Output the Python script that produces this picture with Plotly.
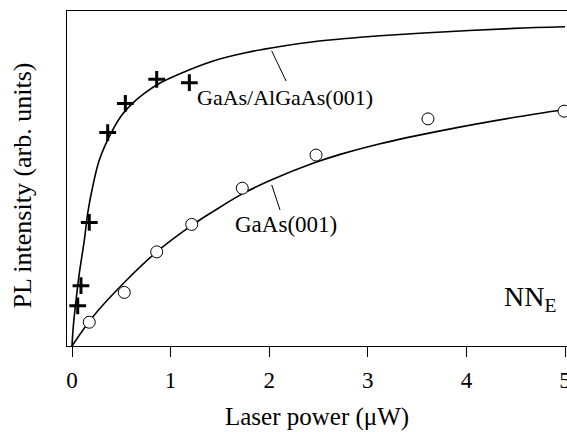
import plotly.graph_objects as go

# ---- data ----
power_alga = [0.058, 0.091, 0.175, 0.362, 0.541, 0.859, 1.19]
pl_alga = [12.0, 18.0, 36.9, 63.7, 72.4, 79.6, 78.6]

power_gaas = [0.175, 0.53, 0.859, 1.214, 1.727, 2.475, 3.61, 4.99]
pl_gaas = [7.1, 16.0, 28.1, 36.3, 47.1, 57.0, 67.8, 70.1]

fit_alga_x = [0, 0.013, 0.041, 0.074, 0.125, 0.159, 0.21, 0.277, 0.378, 0.497, 0.616,
              0.733, 0.892, 1.095, 1.433, 1.772, 2.11, 2.447, 2.786, 3.124, 3.80, 4.476, 5.0]
fit_alga_y = [0, 5.8, 13.7, 21.7, 31.6, 39.6, 47.6, 55.5, 62.5, 68.6, 72.5,
              75.4, 78.5, 81.3, 85.1, 87.6, 89.4, 90.8, 91.8, 92.6, 93.8, 94.8, 95.3]

fit_gaas_x = [0, 0.216, 0.555, 0.859, 1.214, 1.434, 1.727, 2.025, 2.45, 2.72, 3.124,
              3.80, 4.476, 5.0]
fit_gaas_y = [0, 8.9, 19.7, 28.1, 36.0, 40.2, 45.4, 49.6, 54.6, 57.2, 60.4,
              64.6, 68.2, 70.6]

x_ticks = [0, 1, 2, 3, 4, 5]

FONT = "Liberation Serif"

fig = go.Figure()
fig.add_trace(go.Scatter(x=fit_alga_x, y=fit_alga_y, mode="lines",
                         line=dict(color="black", width=1.6, shape="spline", smoothing=1.0),
                         showlegend=False, hoverinfo="skip"))
fig.add_trace(go.Scatter(x=fit_gaas_x, y=fit_gaas_y, mode="lines",
                         line=dict(color="black", width=1.6, shape="spline", smoothing=1.0),
                         showlegend=False, hoverinfo="skip"))
fig.add_trace(go.Scatter(x=power_alga, y=pl_alga, mode="markers",
                         marker=dict(symbol="cross-thin", size=12, color="black",
                                     line=dict(color="black", width=3)),
                         showlegend=False, cliponaxis=False))
fig.add_trace(go.Scatter(x=power_gaas, y=pl_gaas, mode="markers",
                         marker=dict(symbol="circle", size=12, color="white",
                                     line=dict(color="black", width=1)),
                         showlegend=False, cliponaxis=False))

# leader lines for labels
fig.add_shape(type="line", x0=2.025, y0=88.1, x1=2.171, y1=79.1,
              line=dict(color="black", width=1))
fig.add_shape(type="line", x0=2.025, y0=48.1, x1=2.11, y1=40.6,
              line=dict(color="black", width=1))

fig.add_annotation(x=2.165, y=74.3, text="GaAs/AlGaAs(001)", showarrow=False,
                   font=dict(family=FONT, size=22, color="black"))
fig.add_annotation(x=2.17, y=36.4, text="GaAs(001)", showarrow=False,
                   font=dict(family=FONT, size=23, color="black"))
fig.add_annotation(x=4.64, y=14.3, text="NN<sub>E</sub>", showarrow=False,
                   xanchor="center", yanchor="middle",
                   font=dict(family=FONT, size=28, color="black"))

# axis titles
fig.add_annotation(xref="paper", yref="paper", x=0.5, y=-0.212,
                   text="Laser power (\u03bcW)", showarrow=False,
                   xanchor="center", yanchor="middle",
                   font=dict(family=FONT, size=25, color="black"))
fig.add_annotation(xref="paper", yref="paper", x=-0.088, y=0.479,
                   text="PL intensity (arb. units)", showarrow=False, textangle=-90,
                   xanchor="center", yanchor="middle",
                   font=dict(family=FONT, size=26, color="black"))

fig.update_xaxes(range=[-0.0507, 5.02], tickvals=x_ticks, ticktext=[str(t) for t in x_ticks],
                 ticks="outside", ticklen=10, tickwidth=1.3, tickcolor="black",
                 ticklabeloverflow="allow", automargin=False, ticklabelstandoff=3,
                 showline=True, linecolor="black", linewidth=1.4, mirror=True,
                 showgrid=False, zeroline=False,
                 tickfont=dict(family=FONT, size=23, color="black"))
fig.update_yaxes(range=[0, 100], showticklabels=False, ticks="", automargin=False,
                 showline=True, linecolor="black", linewidth=1.4, mirror=False,
                 showgrid=False, zeroline=False)

fig.update_layout(width=567, height=432, margin=dict(l=67, r=0, t=11, b=86, autoexpand=False),
                  plot_bgcolor="white", paper_bgcolor="white",
                  font=dict(family=FONT, color="black"))

fig.write_html("out.html")
